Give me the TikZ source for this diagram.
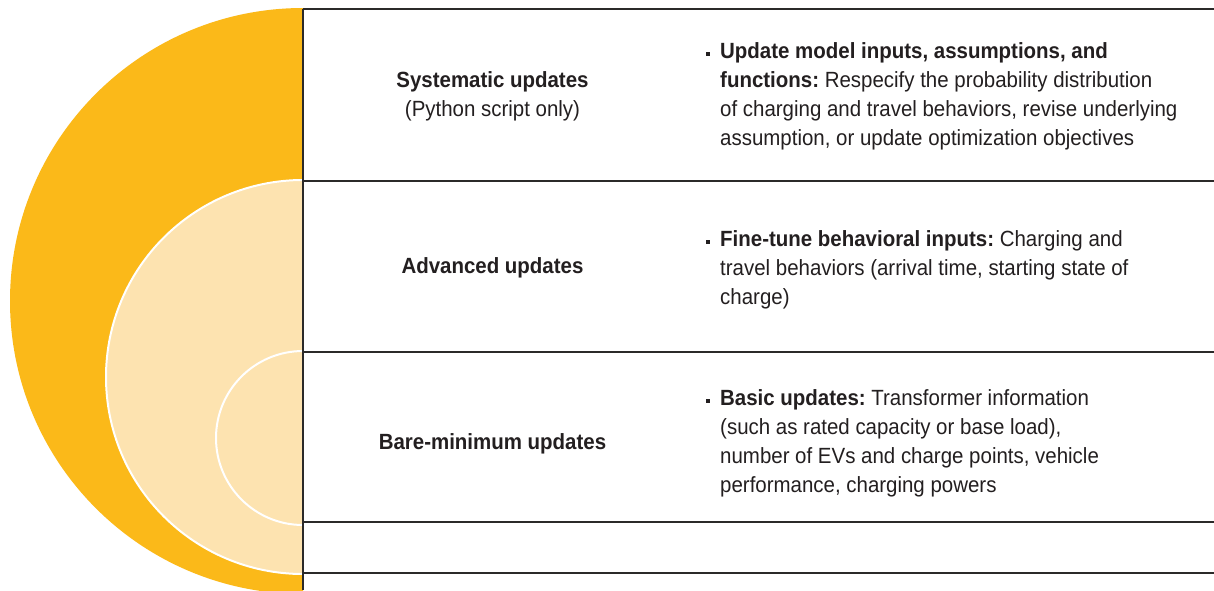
\documentclass[tikz,border=0pt]{standalone}
\usepackage{fontspec}
\setmainfont{Liberation Sans}[FakeStretch=0.93]
\frenchspacing
\definecolor{gold}{HTML}{FBB919}
\definecolor{cream}{HTML}{FDE3B0}
\definecolor{rule}{HTML}{2B2A29}
\definecolor{ink}{HTML}{231F20}
\tikzset{
  rowline/.style={draw=rule, line width=2pt},
  title/.style={anchor=base, inner sep=0pt, align=center, text=ink, font=\fontsize{22}{29}\selectfont\bfseries},
  desc/.style={anchor=north west, inner sep=0pt, align=left, text=ink, font=\fontsize{22}{29}\selectfont},
  bulletsq/.style={fill=ink, inner sep=0pt, minimum size=4pt},
  ring/.style={draw=white, line width=2pt}
}
\begin{document}
\begin{tikzpicture}[x=1pt,y=-1pt]
\useasboundingbox (0,0) rectangle (1214,590);
\fill[white] (0,0) rectangle (1214,590);
% half-disc shapes
\begin{scope}
\clip (0,0) rectangle (303,590);
\fill[gold] (303,301) circle[radius=293pt];
\fill[cream, ring] (303,377) circle[radius=197pt];
\fill[cream, ring] (303,438) circle[radius=87pt];
\end{scope}
% grid
\coordinate (v0) at (303,9);
\coordinate (v1) at (303,590);
\coordinate (h0a) at (303,9);   \coordinate (h0b) at (1214,9);
\coordinate (h1a) at (303,181); \coordinate (h1b) at (1214,181);
\coordinate (h2a) at (303,352); \coordinate (h2b) at (1214,352);
\coordinate (h3a) at (303,522); \coordinate (h3b) at (1214,522);
\coordinate (h4a) at (303,573); \coordinate (h4b) at (1214,573);
\draw[rowline] (h0a) -- (h0b);
\draw[rowline] (h1a) -- (h1b);
\draw[rowline] (h2a) -- (h2b);
\draw[rowline] (h3a) -- (h3b);
\draw[rowline] (h4a) -- (h4b);
\draw[rowline] (v0) -- (v1);
% titles
\node[title] (t1) at (492.5,116) {Systematic updates\\\mdseries (Python script only)};
\node[title] (t2) at (492.5,273) {Advanced updates};
\node[title] (t3) at (492.5,449) {Bare-minimum updates};
% bullets
\node[bulletsq] (b1) at (707.5,54) {};
\node[bulletsq] (b2) at (707.5,242) {};
\node[bulletsq] (b3) at (707.5,401) {};
% descriptions
\node[desc] (d1) at (720,42.5) {\textbf{Update model inputs, assumptions, and}\\\textbf{functions:} Respecify the probability distribution\\of charging and travel behaviors, revise underlying\\assumption, or update optimization objectives};
\node[desc] (d2) at (720,230.5) {\textbf{Fine-tune behavioral inputs:} Charging and\\travel behaviors (arrival time, starting state of\\charge)};
\node[desc] (d3) at (720,389.5) {\textbf{Basic updates:} Transformer information\\(such as rated capacity or base load),\\number of EVs and charge points, vehicle\\performance, charging powers};
\end{tikzpicture}
\end{document}
